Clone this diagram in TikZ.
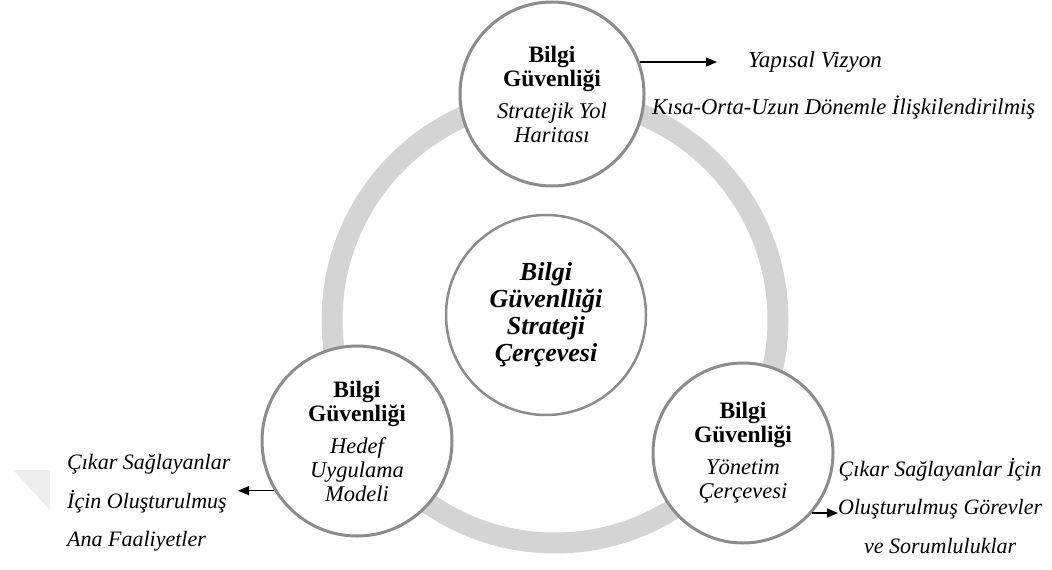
\documentclass[tikz,border=0pt]{standalone}
\usepackage{fontspec}
\setmainfont{Liberation Serif}
\usetikzlibrary{arrows.meta}
\definecolor{ringgray}{HTML}{D4D4D4}
\definecolor{rimgray}{HTML}{8C8C8C}
\definecolor{markgray}{HTML}{EEEEEE}
% italic second part of each circle caption
\newcommand\subline[1]{{\fontsize{22.5}{24}\selectfont\itshape #1}}
\begin{document}
\begin{tikzpicture}[x=1pt,y=-1pt,
  hub/.style={circle, draw=rimgray, line width=3pt, fill=white, inner sep=0pt,
    align=center, font=\fontsize{23.5}{24}\selectfont},
  sidetext/.style={font=\fontsize{22}{38.5}\selectfont\itshape, inner sep=0pt},
  toptext/.style={font=\fontsize{23}{24}\selectfont\itshape, inner sep=0pt},
  pointer/.style={-{Triangle[length=11pt,width=9pt]}, line width=1.2pt, black}]
\useasboundingbox (0,0) rectangle (1052,570);

% faint corner mark
\fill[markgray] (13,470) -- (50,470) -- (50,510) -- cycle;

% the ring linking the three parts
\draw[ringgray, line width=21pt] (555,320) circle (223pt);

% circles
\node[hub, minimum size=200pt, line width=2.5pt,
      font=\fontsize{26}{27}\selectfont\bfseries\itshape] (core) at (546,315)
  {Bilgi\\Güvenlliği\\Strateji\\Çerçevesi};
\node[hub, minimum size=184pt] (road) at (552,94)
  {\textbf{Bilgi}\\\textbf{Güvenliği}\\[8pt]\subline{Stratejik Yol}\\\subline{Haritası}};
\node[hub, minimum size=190pt] (goal) at (357,441)
  {\textbf{Bilgi}\\\textbf{Güvenliği}\\[8pt]\subline{Hedef}\\\subline{Uygulama}\\\subline{Modeli}};
\node[hub, minimum size=180pt] (gov) at (743,453)
  {\textbf{Bilgi}\\\textbf{Güvenliği}\\[8pt]\subline{Yönetim}\\\subline{Çerçevesi}};

% side texts
\node[toptext, anchor=west] (vision) at (748,62) {Yapısal Vizyon};
\node[toptext, anchor=west, font=\fontsize{22.6}{24}\selectfont\itshape] (term) at (652,108)
  {Kısa-Orta-Uzun Dönemle İlişkilendirilmiş};
\node[sidetext, anchor=west, align=left] (tasks) at (67,503)
  {Çıkar Sağlayanlar\\İçin Oluşturulmuş\\Ana Faaliyetler};
\node[sidetext, anchor=west, align=center] (roles) at (838,506)
  {Çıkar Sağlayanlar İçin\\Oluşturulmuş Görevler\\ve Sorumluluklar};

% arrows
\coordinate (roadEnd) at (717,62);
\coordinate (goalEnd) at (238,491);
\coordinate (govEnd) at (838,512);
\draw[pointer] (road.20.4) -- (road.20.4 -| roadEnd);
\draw[pointer] (goal.211.8) -- (goal.211.8 -| goalEnd);
\draw[pointer] (gov.-41) -- (gov.-41 -| govEnd);
\end{tikzpicture}
\end{document}
